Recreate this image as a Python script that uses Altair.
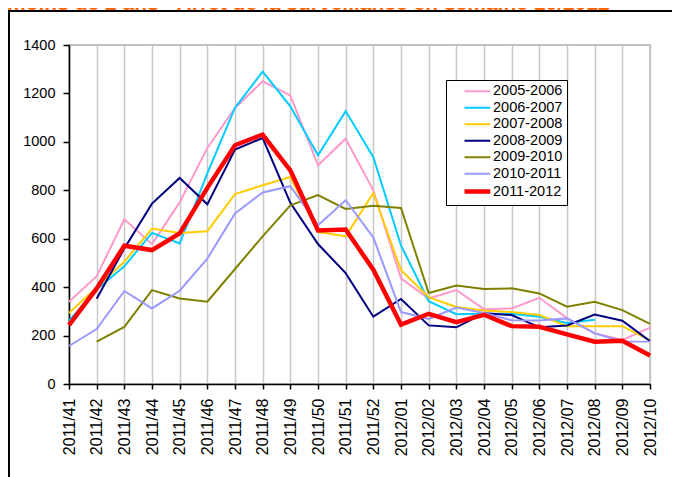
import altair as alt
import pandas as pd

title_text = "moins de 2 ans - Arrêt de la surveillance en semaine 10/2012"

weeks = ["2011/41", "2011/42", "2011/43", "2011/44", "2011/45", "2011/46",
         "2011/47", "2011/48", "2011/49", "2011/50", "2011/51", "2011/52",
         "2012/01", "2012/02", "2012/03", "2012/04", "2012/05", "2012/06",
         "2012/07", "2012/08", "2012/09", "2012/10"]

seasons = ["2005-2006", "2006-2007", "2007-2008", "2008-2009",
           "2009-2010", "2010-2011", "2011-2012"]

s0506 = [340, 445, 680, 578, 750, 975, 1140, 1250, 1192, 903, 1013, 800,
         436, 353, 388, 309, 312, 356, 272, 210, 182, 233]
s0607 = [262, 390, 486, 624, 580, 870, 1141, 1290, 1147, 945, 1127, 937,
         572, 342, 288, 290, 290, 278, 252, 265, None, None]
s0708 = [293, 399, 505, 642, 624, 631, 784, 821, 855, 628, 610, 789,
         470, 359, 318, 304, 297, 285, 239, 239, 239, 180]
s0809 = [None, 352, 560, 745, 851, 742, 968, 1016, 748, 578, 458, 278,
         351, 242, 234, 292, 285, 234, 242, 287, 261, 177]
s0910 = [None, 175, 236, 388, 353, 340, 475, 610, 738, 780, 723, 736,
         727, 376, 407, 392, 395, 374, 319, 340, 305, 248]
s1011 = [157, 227, 384, 312, 385, 518, 704, 791, 817, 656, 759, 605,
         297, 269, 316, 293, 263, 262, 271, 209, 176, 175]
s1112 = [243, 395, 571, 553, 622, 810, 986, 1030, 882, 634, 638, 472,
         245, 290, 255, 286, 239, 236, 205, 175, 179, 118]

colors = ["#FF99CC", "#00CCFF", "#FFCC00", "#000080", "#808000", "#9999FF", "#FF0000"]
widths = [2, 2, 2, 2, 2, 2, 4.5]

series = [s0506, s0607, s0708, s0809, s0910, s1011, s1112]
rows = []
for name, vals in zip(seasons, series):
    for w, v in zip(weeks, vals):
        if v is not None:
            rows.append({"week": w, "season": name, "value": v})
df = pd.DataFrame(rows)

FONT = "Liberation Sans"

legend = alt.Legend(
    orient="none", legendX=377, legendY=35, title=None,
    strokeColor="#000000", fillColor="#ffffff", padding=4,
    symbolType="M1,0L5.3,0", symbolSize=144, labelOffset=26,
    labelFontSize=14.5, labelFont=FONT, labelColor="#000000",
    rowPadding=1.5,
)

lines = alt.Chart(df).mark_line().encode(
    x=alt.X("week:N", sort=weeks, scale=alt.Scale(type="point", padding=0),
            axis=alt.Axis(title=None, labelAngle=-90, labelFontSize=16,
                          labelFont=FONT, labelColor="#000000", tickSize=5,
                          labelPadding=9, grid=True, gridColor="#c8c8c8",
                          gridWidth=1.5)),
    y=alt.Y("value:Q", scale=alt.Scale(domain=[0, 1400]),
            axis=alt.Axis(title=None, values=list(range(0, 1401, 200)),
                          format="d", grid=False, tickSize=6, labelPadding=8,
                          labelFontSize=14.5, labelFont=FONT,
                          labelColor="#000000")),
    color=alt.Color("season:N", scale=alt.Scale(domain=seasons, range=colors),
                    legend=legend),
    strokeWidth=alt.StrokeWidth("season:N",
                                scale=alt.Scale(type="ordinal", domain=seasons, range=widths),
                                legend=legend),
)

one = pd.DataFrame({"t": [title_text]})
title = alt.Chart(one).mark_text(
    align="left", baseline="alphabetic", fontSize=21, fontWeight="bold",
    color="#FF6600", font=FONT
).encode(x=alt.value(-62), y=alt.value(-35), text="t:N")

frame_top = alt.Chart(one).mark_rule(color="#000000", strokeWidth=2).encode(
    x=alt.value(-60), x2=alt.value(610), y=alt.value(-34))
frame_left = alt.Chart(one).mark_rule(color="#000000", strokeWidth=2).encode(
    x=alt.value(-60), y=alt.value(-35), y2=alt.value(440))

chart = alt.layer(title, frame_top, frame_left, lines).properties(
    width=581, height=339,
    autosize=alt.AutoSizeParams(type="none"),
    padding={"left": 61, "top": 37, "right": 22, "bottom": 93},
).configure_view(stroke="#c0c0c0", strokeWidth=2).configure_axis(
    domainColor="#000000", domainWidth=1.5, tickColor="#000000", tickWidth=1.5
)

chart.save("out.html", embed_options={"renderer": "svg", "actions": False})
